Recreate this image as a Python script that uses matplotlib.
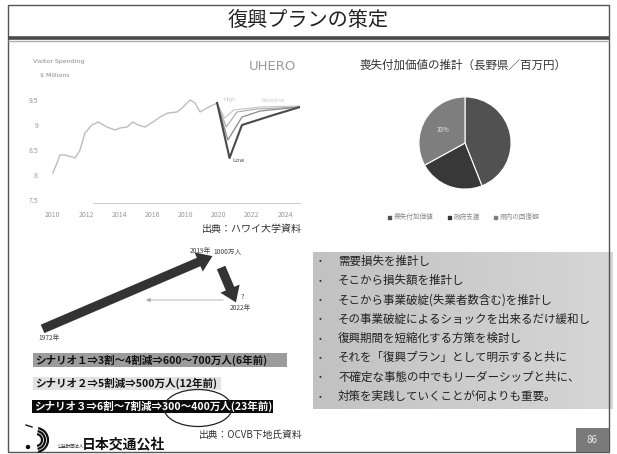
import numpy as np
import matplotlib
matplotlib.use('Agg')
import matplotlib.pyplot as plt
from matplotlib.patches import Rectangle, Ellipse, Arc, FancyArrowPatch

plt.rcParams['font.family'] = ['Noto Sans CJK JP', 'DejaVu Sans']

# slide texts
title = '復興プランの策定'
source_hawaii = '出典：ハワイ大学資料'
source_ocvb = '出典：OCVB下地氏資料'
org_name = '日本交通公社'
org_prefix = '公益財団法人'
page_no = '86'

# line chart (visitor spending, with 2020 shock scenarios)
hist_years = [2010.0, 2010.24, 2010.42, 2010.72, 2011.15, 2011.33, 2011.63, 2011.93,
              2012.35, 2012.72, 2013.26, 2013.74, 2014.04, 2014.47, 2014.83, 2015.13,
              2015.55, 2016.03, 2016.46, 2016.94, 2017.48, 2017.85, 2018.27, 2018.57,
              2018.87, 2019.29, 2019.66, 2019.9]
hist_vals = [8.04, 8.24, 8.4, 8.4, 8.36, 8.34, 8.5, 8.84,
             9.0, 9.06, 8.96, 8.9, 8.94, 8.96, 9.06, 9.0,
             8.96, 9.06, 9.16, 9.24, 9.26, 9.36, 9.5, 9.44,
             9.26, 9.34, 9.4, 9.44]
low_years = [2019.9, 2020.65, 2021.4, 2023.3, 2024.9]
low_vals = [9.44, 8.34, 9.0, 9.2, 9.36]
midlow_years = [2019.9, 2020.55, 2021.4, 2022.5, 2024.9]
midlow_vals = [9.44, 8.7, 9.16, 9.28, 9.36]
mid_years = [2019.9, 2020.45, 2021.1, 2022.3, 2024.9]
mid_vals = [9.44, 8.96, 9.26, 9.32, 9.36]
high_years = [2019.9, 2020.35, 2020.9, 2022.5, 2024.9]
high_vals = [9.44, 9.14, 9.3, 9.36, 9.38]
year_ticks = [2010, 2012, 2014, 2016, 2018, 2020, 2022, 2024]
val_ticks = [7.5, 8, 8.5, 9, 9.5]

# pie chart
pie_title = '喪失付加価値の推計（長野県／百万円）'
pie_labels = ['喪失付加価値', '政府支援', '県内の回復額']
pie_shares = [44, 23, 33]
pie_colors = ['#515151', '#383838', '#7e7e7e']

# scenarios
scenarios = ['シナリオ１⇒3割～4割減⇒600～700万人(6年前)',
             'シナリオ２⇒5割減⇒500万人(12年前)',
             'シナリオ３⇒6割～7割減⇒300～400万人(23年前)']

# bullet points
bullets = ['需要損失を推計し',
           'そこから損失額を推計し',
           'そこから事業破綻(失業者数含む)を推計し',
           'その事業破綻によるショックを出来るだけ緩和し',
           '復興期間を短縮化する方策を検討し',
           'それを「復興プラン」として明示すると共に',
           '不確定な事態の中でもリーダーシップと共に、',
           '対策を実践していくことが何よりも重要。']

W, H = 617, 454
fig = plt.figure(figsize=(W / 100, H / 100), dpi=100)
bg = fig.add_axes([0, 0, 1, 1])
bg.set_xlim(0, W)
bg.set_ylim(H, 0)
bg.axis('off')

# frame and title
bg.add_patch(Rectangle((8, 5), 601, 447, fill=False, ec='#555555', lw=1.0))
bg.text(308, 20, title, ha='center', va='center', fontsize=14.5, color='#222222')
bg.plot([8, 609], [38, 38], color='#4a4a4a', lw=2.6, solid_capstyle='butt')
bg.plot([8, 609], [40.5, 40.5], color='#b0b0b0', lw=1.0, solid_capstyle='butt')

# line chart
ax = fig.add_axes([45 / W, (H - 203) / H, 255 / W, 108 / H])
ax.set_xlim(2009.52, 2024.9)
ax.set_ylim(7.44, 9.6)
ax.plot(hist_years, hist_vals, color='#bdbdbd', lw=1.0)
ax.plot(high_years, high_vals, color='#c4c4c4', lw=0.8)
ax.plot(mid_years, mid_vals, color='#a8a8a8', lw=0.8)
ax.plot(midlow_years, midlow_vals, color='#8a8a8a', lw=0.9)
ax.plot(low_years, low_vals, color='#4a4a4a', lw=1.5)
ax.text(2020.85, 8.3, 'Low', fontsize=4.5, color='#555555', va='center', family='DejaVu Sans')
ax.text(2020.3, 9.5, 'High', fontsize=4, color='#cccccc', va='center', family='DejaVu Sans')
ax.text(2022.6, 9.5, 'Baseline', fontsize=4, color='#cccccc', va='center', family='DejaVu Sans')
for s in ['top', 'right', 'left']:
    ax.spines[s].set_visible(False)
ax.spines['bottom'].set_color('#cccccc')
ax.spines['bottom'].set_linewidth(0.7)
ax.spines['bottom'].set_bounds(2012.4, 2024.9)
ax.set_xticks(year_ticks)
ax.set_xticklabels([str(y) for y in year_ticks])
ax.set_yticks(val_ticks)
ax.set_yticklabels([f'{v:g}' for v in val_ticks])
ax.tick_params(length=0, labelsize=5, labelcolor='#999999', pad=6)
ax.tick_params(axis='y', pad=5)
ax.patch.set_alpha(0)
bg.text(33, 62, 'Visitor Spending', fontsize=4.5, color='#888888', family='DejaVu Sans', va='center')
bg.text(40, 75, '$ Millions', fontsize=4.5, color='#888888', family='DejaVu Sans', va='center')
bg.text(296, 67, 'UHERO', fontsize=9.5, color='#9a9a9a', family='DejaVu Sans', ha='right', va='center')
bg.text(302, 229, source_hawaii, fontsize=7.2, color='#333333', ha='right', va='center')

# pie chart
bg.text(463, 65, pie_title, fontsize=8.3, color='#333333', ha='center', va='center')
pax = fig.add_axes([418 / W, (H - 190) / H, 94 / W, 94 / H])
wedges, _ = pax.pie(pie_shares, colors=pie_colors, startangle=90, counterclock=False,
                    wedgeprops=dict(edgecolor='white', linewidth=0.8))
mid_ang = np.deg2rad(90 - 360 * (pie_shares[0] + pie_shares[1] + pie_shares[2] / 2) / sum(pie_shares))
pax.text(0.55 * np.cos(mid_ang), 0.55 * np.sin(mid_ang), f'{pie_shares[2]}%',
         fontsize=4.5, color='#eeeeee', ha='center', va='center')
pax.set_xlim(-1.02, 1.02)
pax.set_ylim(-1.02, 1.02)
pax.set_aspect('equal')
leg_x = [389, 449, 495]
for xm, lab, col in zip(leg_x, pie_labels, pie_colors):
    bg.add_patch(Rectangle((xm - 1.5, 215.5), 3, 3, color=col))
    bg.text(xm + 5, 217, lab, fontsize=4.8, color='#888888', va='center')

# arrow diagram
big_arrow = 'simple,head_length=0.9,head_width=1.25,tail_width=0.55'
bg.add_patch(FancyArrowPatch((40, 330), (215, 255), arrowstyle=big_arrow,
                             mutation_scale=12, color='#333333', lw=0))
bg.add_patch(FancyArrowPatch((220, 265), (237, 305), arrowstyle=big_arrow,
                             mutation_scale=12, color='#333333', lw=0))
bg.add_patch(FancyArrowPatch((226, 300), (143, 300), arrowstyle='-|>,head_width=1.2,head_length=2.5',
                             color='#aaaaaa', lw=0.6))
bg.text(38, 338, '1972年', fontsize=4.8, color='#444444', va='center')
bg.text(190, 251, '2019年', fontsize=4.8, color='#444444', va='center')
bg.text(213, 251, '1000万人', fontsize=4.8, color='#444444', va='center')
bg.text(241, 297, '?', fontsize=5.5, color='#444444', va='center')
bg.text(230, 308, '2022年', fontsize=4.8, color='#444444', va='center')

# scenario boxes
box_specs = [(33, 353, 254, 14, '#9c9c9c', '#111111'),
             (33, 377, 188, 13, '#e2e2e2', '#111111'),
             (32, 400, 241, 13, '#0a0a0a', '#ffffff')]
for (bx, by, bw, bh, fc, tc), txt in zip(box_specs, scenarios):
    bg.add_patch(Rectangle((bx, by), bw, bh, color=fc, lw=0))
    bg.text(bx + 2, by + bh / 2, txt, fontsize=7.6, color=tc, va='center', fontweight='bold')
bg.add_patch(Ellipse((198, 408), 68, 37, fill=False, ec='#222222', lw=0.9))
bg.text(302, 435, source_ocvb, fontsize=7.0, color='#333333', ha='right', va='center')

# logo
for r in [6, 9, 12]:
    bg.add_patch(Arc((36, 440), 2 * r, 2 * r, theta1=-80, theta2=80, color='#111111', lw=1.6))
bg.plot([26, 32], [425, 427], color='#111111', lw=1.0)
bg.add_patch(Ellipse((28, 447), 3, 3, color='#111111'))
bg.text(58, 446, org_prefix, fontsize=3.2, color='#333333', va='center')
bg.text(82, 444, org_name, fontsize=10, color='#111111', va='center', fontweight='bold')

# bullet box
grad = np.linspace(0, 1, 200).reshape(1, -1)
bg.imshow(grad, extent=(313, 613, 409, 252), cmap=matplotlib.colors.LinearSegmentedColormap.from_list(
    'g', ['#c2c2c2', '#d6d6d6']), aspect='auto', zorder=0)
bg.set_xlim(0, W)
bg.set_ylim(H, 0)
for i, line in enumerate(bullets):
    yy = 261 + i * 19.3
    bg.text(320, yy, '•', fontsize=6, color='#333333', va='center', ha='center')
    bg.text(338, yy, line, fontsize=8.3, color='#222222', va='center')

# page number
bg.add_patch(Rectangle((576, 428), 33, 24, color='#7a7a7a', lw=0))
bg.text(592, 440, page_no, fontsize=7, color='#eeeeee', ha='center', va='center')

fig.savefig('out.png', dpi=100)
